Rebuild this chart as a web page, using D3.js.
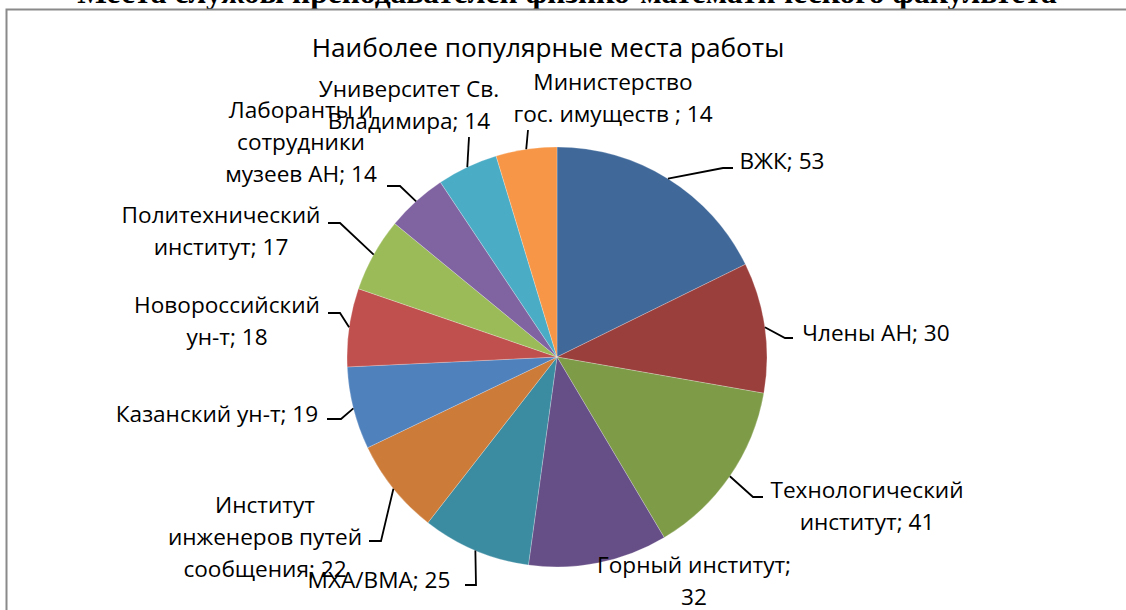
<!DOCTYPE html>
<html><head><meta charset="utf-8">
<script src="https://cdn.jsdelivr.net/npm/d3@7"></script>
<style>body{margin:0;background:#fff}svg{display:block}</style>
</head><body>
<svg id="c" width="1126" height="610"></svg>
<script>
const categories = ["ВЖК","Члены  АН","Технологический институт","Горный институт","МХА/ВМА","Институт инженеров путей сообщения","Казанский ун-т","Новороссийский ун-т","Политехнический институт","Лаборанты и сотрудники музеев АН","Университет Св. Владимира","Министерство гос. имуществ "];
const values = [53,30,41,32,25,22,19,18,17,14,14,14];
const labelLines = [
  ["ВЖК; 53"],["Члены  АН; 30"],["Технологический","институт; 41"],["Горный институт;","32"],
  ["МХА/ВМА; 25"],["Институт","инженеров путей","сообщения; 22"],["Казанский ун-т; 19"],
  ["Новороссийский","ун-т; 18"],["Политехнический","институт; 17"],["Лаборанты и","сотрудники","музеев АН; 14"],
  ["Университет Св.","Владимира; 14"],["Министерство","гос. имуществ ; 14"]
];
const title = "Наиболее популярные места работы";
const pageHeading = "Места службы преподавателей физико-математического факультета";

// styles / layout
const colors = ["#40699A","#9B3F3C","#7E9B48","#664E86","#3B8BA1","#CC7B38","#4F81BD","#C0504D","#9BBB59","#8064A2","#4BACC6","#F79646"];
const layout = [
  {x:782,y:169,el:[[723,168],[733,168]]},
  {x:876,y:341,el:[[785,338],[793,338]]},
  {x:867,y:498,el:[[753,497],[763,497]]},
  {x:694,y:573,el:null},
  {x:379,y:588,el:[[476,585],[465,585]]},
  {x:265,y:513,el:[[381,541],[369,541]]},
  {x:217,y:422,el:[[341,419],[327,419]]},
  {x:227,y:313,el:[[340,313],[328,313]]},
  {x:221,y:223,el:[[340,223],[328,223]]},
  {x:301,y:118,el:[[400,186],[387,186]]},
  {x:409,y:97,el:[[469,137]]},
  {x:613,y:90,el:[[528,130]]}
];
const cx = 557, cy = 357, R = 210;
const svg = d3.select("#c");

// heading (cut off at top)
svg.append("text").attr("x",567).attr("y",3).attr("text-anchor","middle")
  .attr("font-family","Liberation Serif").attr("font-weight","bold").attr("font-size",31.5)
  .text(pageHeading);

// chart border
svg.append("rect").attr("x",6.5).attr("y",9.5).attr("width",1200).attr("height",700)
  .attr("fill","#fff").attr("stroke","#8a8a8a").attr("stroke-width",2);

svg.append("text").attr("x",548).attr("y",57).attr("text-anchor","middle")
  .attr("font-family","Open Sans").attr("font-size",26.2).attr("fill","#000").text(title);

const data = categories.map((c,i)=>({c,v:values[i],i}));
const pie = d3.pie().sort(null).value(d=>d.v).startAngle(0).endAngle(2*Math.PI);
const arcs = pie(data);
const arc = d3.arc().innerRadius(0).outerRadius(R);
const g = svg.append("g").attr("transform",`translate(${cx},${cy})`);
g.selectAll("path").data(arcs).join("path").attr("d",arc)
  .attr("fill",d=>colors[d.data.i]).attr("stroke","#fff").attr("stroke-width",0.4).attr("stroke-opacity",0.6);

// leader lines
arcs.forEach((a,i)=>{
  const L = layout[i];
  if(!L.el) return;
  const m = (a.startAngle+a.endAngle)/2;
  const p0 = [cx+R*Math.sin(m), cy-R*Math.cos(m)];
  const pts = [p0, ...L.el];
  svg.append("path").attr("d",d3.line()(pts)).attr("fill","none").attr("stroke","#000").attr("stroke-width",1.8);
});

// labels
arcs.forEach((a,i)=>{
  const L = layout[i];
  const t = svg.append("text").attr("text-anchor","middle").attr("font-family","Open Sans")
    .attr("font-size",22.6).attr("fill","#000");
  labelLines[i].forEach((ln,k)=>{
    t.append("tspan").attr("x",L.x).attr("y",L.y+k*32).text(ln);
  });
});
</script>
</body></html>
